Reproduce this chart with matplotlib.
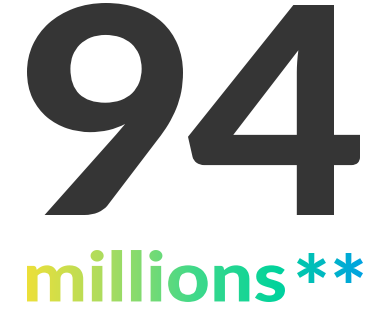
import numpy as np
import matplotlib.pyplot as plt
from matplotlib.textpath import TextPath
from matplotlib.font_manager import FontProperties
from matplotlib.patches import PathPatch
from matplotlib.transforms import Affine2D
from matplotlib.colors import LinearSegmentedColormap

# ----------------------------------------------------------
# Data
# ----------------------------------------------------------

NUMERO = "94"
UNIDAD = "millions"
NOTA = "**"

COLOR_NUMERO = "#353535"
GRADIENTE = ["#ece03a", "#a6dc62", "#3fd98a", "#00d39c", "#00a2e2"]

# ----------------------------------------------------------
# Helpers
# ----------------------------------------------------------

W, H = 375, 315


def texto_en_caja(texto, caja, fp):
    """TextPath escalado para ocupar caja (x0, y0, x1, y1) en pixeles."""
    tp = TextPath((0, 0), texto, prop=fp)
    ext = tp.get_extents()
    x0, y0, x1, y1 = caja
    sx = (x1 - x0) / ext.width
    sy = (y1 - y0) / ext.height
    tr = (Affine2D().translate(-ext.x0, -ext.y0)
          .scale(sx, -sy).translate(x0, y1))
    return tr.transform_path(tp)


fig = plt.figure(figsize=(3.75, 3.15), dpi=100)
ax = fig.add_axes([0, 0, 1, 1])
ax.set_xlim(0, W)
ax.set_ylim(H, 0)
ax.axis("off")

fp_num = FontProperties(family="Lato", weight="black")
fp_txt = FontProperties(family="Lato", weight="black")

# numero grande
p9 = texto_en_caja(NUMERO[0], (27, 3, 183, 215), fp_num)
p4 = texto_en_caja(NUMERO[1], (188, 5, 360, 215), fp_num)
for p in (p9, p4):
    ax.add_patch(PathPatch(p, facecolor=COLOR_NUMERO, edgecolor="none"))

# texto con gradiente
cmap = LinearSegmentedColormap.from_list("grad", GRADIENTE)
grad = np.linspace(0, 1, 256).reshape(1, -1)

p_txt = texto_en_caja(UNIDAD, (27, 250, 285, 302), fp_txt)
p_ast = texto_en_caja(NOTA, (297, 253, 363, 283), fp_txt)

for p in (p_txt, p_ast):
    patch = PathPatch(p, facecolor="none", edgecolor="none")
    ax.add_patch(patch)
    im = ax.imshow(grad, cmap=cmap, extent=(27, 363, 305, 245),
                   aspect="auto", interpolation="bilinear")
    im.set_clip_path(patch)

ax.set_xlim(0, W)
ax.set_ylim(H, 0)

fig.savefig("out.png", dpi=100, facecolor="white")
plt.close(fig)
